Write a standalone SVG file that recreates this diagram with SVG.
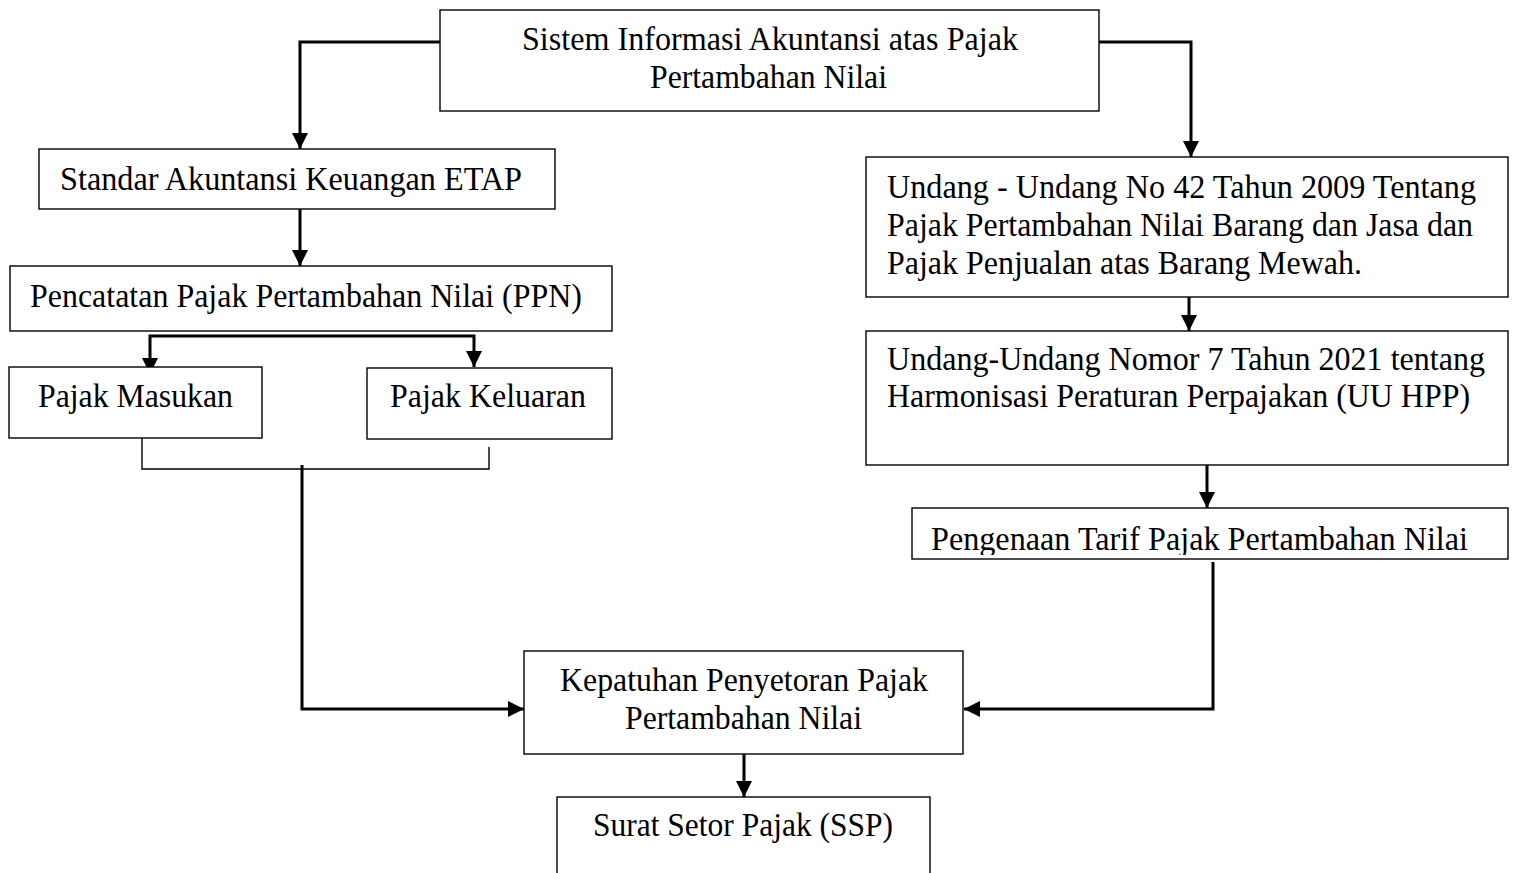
<svg xmlns="http://www.w3.org/2000/svg" width="1515" height="873" viewBox="0 0 1515 873">
<style>
.box{fill:#fff;stroke:#000;stroke-width:1.4}
.t{font-family:"Liberation Serif","Times New Roman",serif;font-size:34px;fill:#000}
.c{fill:none;stroke:#000;stroke-width:3}
.thin{fill:none;stroke:#000;stroke-width:1.4}
</style>
<defs>
<marker id="ah" markerUnits="userSpaceOnUse" markerWidth="16" markerHeight="16" refX="16" refY="8" orient="auto" viewBox="0 0 16 16">
<path d="M0,0 L16,8 L0,16 z" fill="#000"/>
</marker>
<clipPath id="clipTarif"><rect x="912" y="508" width="596" height="47"/></clipPath>
</defs>
<rect width="1515" height="873" fill="#fff"/>
<g id="connectors">
<path class="c" d="M440,42 H300 V149" marker-end="url(#ah)"/>
<path class="c" d="M1099,42 H1191 V157" marker-end="url(#ah)"/>
<path class="c" d="M300,209 V266" marker-end="url(#ah)"/>
<path class="c" d="M312,336 H150 V374" marker-end="url(#ah)"/>
<path class="c" d="M312,336 H474 V367" marker-end="url(#ah)"/>
<path class="thin" d="M142,438 V469 H489 V447"/>
<path class="c" d="M302,465 V709 H524" marker-end="url(#ah)"/>
<path class="c" d="M1189,297 V331" marker-end="url(#ah)"/>
<path class="c" d="M1207,465 V508" marker-end="url(#ah)"/>
<path class="c" d="M1213,562 V709 H964" marker-end="url(#ah)"/>
<path class="c" d="M744,754 V797" marker-end="url(#ah)"/>
</g>
<g id="node-sia">
<rect class="box" x="440" y="10" width="659" height="101"/>
<text class="t" x="522" y="50" textLength="496" lengthAdjust="spacingAndGlyphs">Sistem Informasi Akuntansi atas Pajak</text>
<text class="t" x="650" y="88" textLength="237" lengthAdjust="spacingAndGlyphs">Pertambahan Nilai</text>
</g>
<g id="node-sak">
<rect class="box" x="39" y="149" width="516" height="60"/>
<text class="t" x="60" y="190" textLength="462" lengthAdjust="spacingAndGlyphs">Standar Akuntansi Keuangan ETAP</text>
</g>
<g id="node-pencatatan">
<rect class="box" x="10" y="266" width="602" height="65"/>
<text class="t" x="30" y="307" textLength="552" lengthAdjust="spacingAndGlyphs">Pencatatan Pajak Pertambahan Nilai (PPN)</text>
</g>
<g id="node-masukan">
<rect class="box" x="9" y="367" width="253" height="71"/>
<text class="t" x="38" y="407" textLength="195" lengthAdjust="spacingAndGlyphs">Pajak Masukan</text>
</g>
<g id="node-keluaran">
<rect class="box" x="367" y="368" width="245" height="71"/>
<text class="t" x="390" y="407" textLength="196" lengthAdjust="spacingAndGlyphs">Pajak Keluaran</text>
</g>
<g id="node-uu42">
<rect class="box" x="866" y="157" width="642" height="140"/>
<text class="t" x="887" y="198" textLength="589" lengthAdjust="spacingAndGlyphs">Undang - Undang No 42 Tahun 2009 Tentang</text>
<text class="t" x="887" y="236" textLength="586" lengthAdjust="spacingAndGlyphs">Pajak Pertambahan Nilai Barang dan Jasa dan</text>
<text class="t" x="887" y="274" textLength="475" lengthAdjust="spacingAndGlyphs">Pajak Penjualan atas Barang Mewah.</text>
</g>
<g id="node-uuhpp">
<rect class="box" x="866" y="331" width="642" height="134"/>
<text class="t" x="887" y="370" textLength="598" lengthAdjust="spacingAndGlyphs">Undang-Undang Nomor 7 Tahun 2021 tentang</text>
<text class="t" x="887" y="407" textLength="583" lengthAdjust="spacingAndGlyphs">Harmonisasi Peraturan Perpajakan (UU HPP)</text>
</g>
<g id="node-tarif">
<rect class="box" x="912" y="508" width="596" height="51"/>
<text class="t" x="931" y="550" textLength="537" lengthAdjust="spacingAndGlyphs" clip-path="url(#clipTarif)">Pengenaan Tarif Pajak Pertambahan Nilai</text>
</g>
<g id="node-kepatuhan">
<rect class="box" x="524" y="651" width="439" height="103"/>
<text class="t" x="560" y="691" textLength="368" lengthAdjust="spacingAndGlyphs">Kepatuhan Penyetoran Pajak</text>
<text class="t" x="625" y="729" textLength="237" lengthAdjust="spacingAndGlyphs">Pertambahan Nilai</text>
</g>
<g id="node-ssp">
<rect class="box" x="557" y="797" width="373" height="90"/>
<text class="t" x="593" y="836" textLength="300" lengthAdjust="spacingAndGlyphs">Surat Setor Pajak (SSP)</text>
</g>
</svg>
